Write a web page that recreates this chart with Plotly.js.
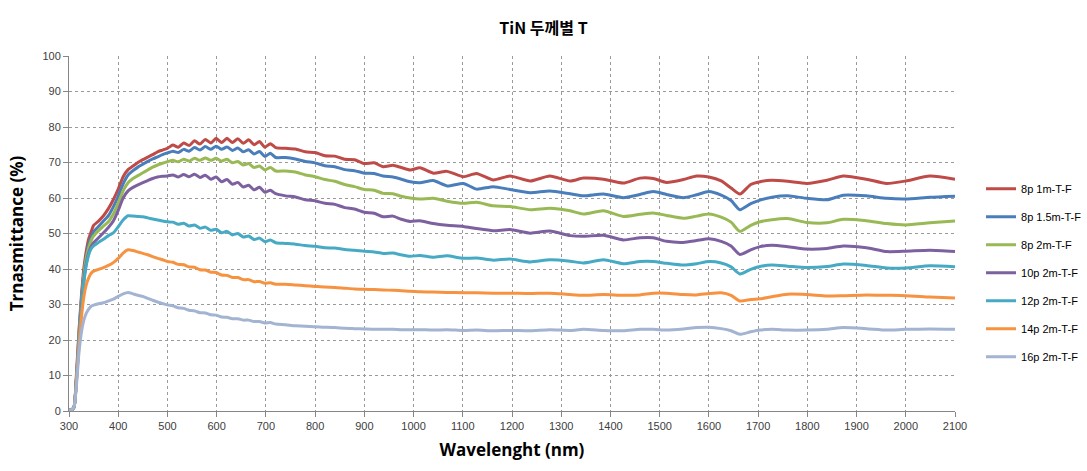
<!DOCTYPE html>
<html><head><meta charset="utf-8">
<script src="https://cdn.plot.ly/plotly-3.0.1.min.js"></script>
<style>html,body{margin:0;padding:0;background:#fff}#chart{width:1087px;height:471px}</style>
</head><body><div id="chart"></div>
<script>
const wavelength = [300,305,310,315,320,325,330,335,340,345,350,360,370,380,390,400,410,420,430,440,450,460,470,480,490,500,
511,522,533,544,555,566,577,588,599,610,621,632,643,654,665,676,687,698,709,720,
740,760,780,800,820,840,860,880,900,920,
938,958,975,993,1013,1040,1068,1101,1128,1162,1196,1237,1277,1318,1345,1386,1426,1460,1487,1514,1548,1575,1600,1625,1645,1663,1685,1704,1728,1760,1799,1840,1873,1920,1961,2000,2049,2100];

const t8p1m = [0.3,0.3,1,10,22,32,40,45,48.5,50.5,52.3,53.5,55,57,59.5,62.5,66,68,69,70,70.8,71.5,72.2,73,73.5,74,
74.9,74.3,75.5,74.8,76.1,75.2,76.5,75.5,76.8,75.6,76.8,75.6,76.7,75.4,76.4,75.0,75.9,74.3,75.3,74.2,
74.0,73.8,73.0,72.8,71.9,71.8,70.9,70.8,69.7,69.9,
68.8,69.2,68.6,67.9,68.5,67.0,67.5,66.0,66.9,65.1,66.2,64.8,66.2,64.8,65.6,65.3,64.2,65.6,65.5,64.4,65.2,66.2,65.9,64.8,62.8,61.1,63.8,64.6,65.0,64.7,64.1,65.0,66.2,65.3,64.1,64.8,66.2,65.3];

const t8p15m = [0.3,0.3,1,9,21,31,38.5,43.5,47,49,50.5,52,53.5,55,57.5,60.5,64,66.5,67.7,68.7,69.5,70.3,71,71.6,72.2,72.7,
73.2,72.8,73.7,73.2,74.2,73.5,74.5,73.7,74.6,73.7,74.4,73.4,74.1,73.0,73.6,72.4,73.1,71.7,72.6,71.4,
71.4,71.0,70.3,69.9,69.1,68.8,68.0,67.7,67.0,66.9,
66.2,65.9,65.3,64.6,64.3,64.9,63.4,64.1,62.5,63.2,62.4,61.5,62.0,61.2,60.6,61.1,60.1,61.0,61.8,61.0,60.1,60.9,61.8,60.8,59.3,56.7,58.4,59.4,60.2,60.6,59.9,59.5,60.8,60.6,59.9,59.7,60.2,60.5];

const t8p2m = [0.3,0.3,1,9,20,30,38,43,46,48,49.3,50.8,52.1,53.3,55.5,58.5,62,64.3,65.5,66.3,67.1,67.9,68.7,69.3,69.8,70.2,
70.6,70.2,70.9,70.4,71.2,70.6,71.3,70.6,71.2,70.4,70.9,69.9,70.3,69.3,69.7,68.6,69.0,67.9,68.6,67.6,
67.6,67.3,66.5,66.0,65.2,64.7,63.8,63.2,62.4,62.2,
61.3,61.2,60.5,60.0,59.7,59.9,59.1,58.5,58.8,57.8,57.6,56.7,57.1,56.4,55.5,56.4,54.8,55.4,55.8,55.1,54.3,54.9,55.5,54.6,53.2,50.6,52.3,53.3,53.9,54.2,53.1,53.0,54.0,53.6,52.8,52.4,53.0,53.5];

const t10p2m = [0.3,0.3,1,8.5,19,29,36.5,41.5,44.5,46.3,47.4,48.8,50.2,51.7,53.5,56.5,60,62,63,63.7,64.3,64.9,65.5,65.9,66.1,66.2,
66.5,65.9,66.6,66.0,66.7,65.8,66.4,65.3,65.9,64.6,65.2,63.9,64.4,63.1,63.6,62.3,63.0,61.6,62.2,61.2,
60.6,60.3,59.5,59.2,58.5,58.2,57.3,56.9,56.0,55.7,
54.7,54.9,54.0,53.4,53.6,52.8,52.3,52.0,51.4,50.8,51.1,50.1,50.7,49.4,49.2,49.5,48.2,48.8,48.8,47.8,47.5,48.0,48.5,47.8,46.5,44.1,45.4,46.3,46.7,46.3,45.6,45.8,46.5,46.0,44.9,45.0,45.3,44.9];

const t12p2m = [0.3,0.3,1,8.5,19,28,36,41,44,45.7,46.5,47.5,48.4,49.4,50.2,51.9,53.8,55,54.9,54.8,54.7,54.4,54.1,53.8,53.5,53.3,
53.2,52.6,52.9,52.1,52.4,51.5,51.8,50.9,51.2,50.2,50.6,49.6,50.0,49.0,49.3,48.3,48.7,47.7,48.2,47.4,
47.2,47.0,46.6,46.4,46.0,45.9,45.5,45.3,45.0,44.8,
44.4,44.5,44.0,43.6,43.8,43.3,43.7,43.0,43.1,42.5,42.8,42.0,42.6,42.2,41.7,42.6,41.5,42.1,42.1,41.6,41.1,41.5,42.1,41.7,40.6,38.6,39.9,40.7,41.1,40.8,40.4,40.7,41.4,41.0,40.3,40.3,40.9,40.6];

const t14p2m = [0.3,0.3,1,8,18,26,32,35.5,37.5,38.8,39.4,39.9,40.4,41,41.8,43,44.5,45.4,45.2,44.8,44.4,44,43.5,43,42.6,42.1,
41.9,41.3,41.2,40.6,40.5,39.8,39.7,39.1,39.0,38.3,38.2,37.6,37.6,37.0,37.0,36.4,36.5,36.0,36.1,35.7,
35.7,35.5,35.3,35.1,34.9,34.8,34.6,34.4,34.3,34.2,
34.1,34.0,33.9,33.7,33.6,33.5,33.4,33.3,33.3,33.2,33.2,33.1,33.2,32.8,32.6,32.8,32.6,32.7,33.2,33.2,32.8,32.7,33.1,33.3,32.6,31.0,31.4,31.6,32.2,32.9,32.8,32.4,32.5,32.7,32.6,32.5,32.1,31.8];

const t16p2m = [0.3,0.3,1,7,16,22,25.5,27.5,28.7,29.5,29.8,30.2,30.5,31,31.5,32.3,33,33.4,33,32.6,32.3,31.7,31.2,30.7,30.3,29.9,
29.6,29.1,28.9,28.4,28.2,27.7,27.6,27.1,27.0,26.5,26.4,26.0,26.0,25.6,25.6,25.2,25.2,24.8,24.9,24.5,
24.3,24.0,23.9,23.7,23.6,23.5,23.3,23.2,23.1,23.0,
23.0,23.0,22.9,22.9,22.9,22.8,22.9,22.7,22.8,22.6,22.7,22.6,22.9,22.7,23.0,22.7,22.6,23.0,23.0,22.8,23.1,23.5,23.6,23.2,22.6,21.6,22.3,22.8,23.0,22.8,22.8,23.0,23.5,23.2,22.8,23.0,23.1,23.0];

const seriesNames = ['8p 1m-T-F','8p 1.5m-T-F','8p 2m-T-F','10p 2m-T-F','12p 2m-T-F','14p 2m-T-F','16p 2m-T-F'];
const seriesValues = [t8p1m,t8p15m,t8p2m,t10p2m,t12p2m,t14p2m,t16p2m];
const seriesColors = ['#BE4B48','#4A7EBB','#98B954','#7D60A0','#46AAC5','#F69240','#A3B3D2'];

const traces = seriesNames.map((n,i)=>({
  x: wavelength, y: seriesValues[i], name: n, type:'scatter', mode:'lines',
  legendgroup: 'g'+i,
  line: {color: seriesColors[i], width: 3, shape:'spline', smoothing:0.6}
}));

const tickFont = {family:'Liberation Sans, Arial, sans-serif', size:11, color:'#404040'};
const layout = {
  width:1087, height:471,
  margin:{l:69, r:132, t:56, b:60},
  paper_bgcolor:'#fff', plot_bgcolor:'#fff',
  title:{text:'<b>TiN 두께별 T</b>', font:{family:'Noto Sans CJK KR, sans-serif', size:16, color:'#000'},
         x:0.5, xref:'container', xanchor:'center', y:0.94, yref:'container', yanchor:'middle'},
  xaxis:{range:[300,2100], tick0:300, dtick:100, showgrid:true, gridcolor:'#9a9a9a', griddash:'dot', gridwidth:1,
         showline:true, linecolor:'#868686', linewidth:1, ticks:'outside', ticklen:5, tickcolor:'#868686',
         zeroline:false, tickfont:tickFont, automargin:false,
         title:{text:'<b>Wavelenght (nm)</b>', font:{family:'Open Sans, sans-serif', size:17, color:'#000'}, standoff:12}},
  yaxis:{range:[0,100], tick0:0, dtick:10, showgrid:true, gridcolor:'#9a9a9a', griddash:'dot', gridwidth:1,
         showline:true, linecolor:'#868686', linewidth:1, ticks:'outside', ticklen:5, tickcolor:'#868686',
         zeroline:false, tickfont:tickFont, automargin:false,
         title:{text:'<b>Trnasmittance (%)</b>', font:{family:'Open Sans, sans-serif', size:17, color:'#000'}, standoff:14}},
  showlegend:true,
  legend:{xref:'container', yref:'container', x:0.9025, xanchor:'left', y:0.63, yanchor:'top',
          traceorder:'grouped', tracegroupgap:9,
          font:{family:'Liberation Sans, Arial, sans-serif', size:11, color:'#000'}, bgcolor:'rgba(0,0,0,0)'}
};
Plotly.newPlot('chart', traces, layout, {staticPlot:true, displayModeBar:false});
</script>
</body></html>
